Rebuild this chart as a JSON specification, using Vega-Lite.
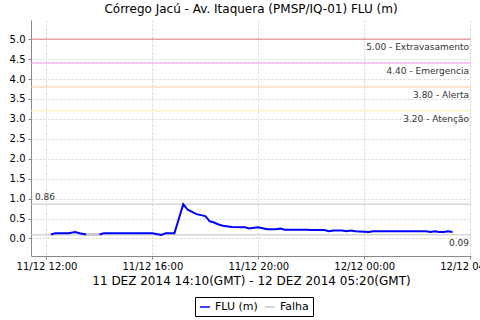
{
  "$schema": "https://vega.github.io/schema/vega-lite/v6.json",
  "width": 440,
  "height": 236,
  "autosize": "none",
  "padding": {"left": 31, "top": 20, "right": 9, "bottom": 64},
  "background": "white",
  "title": {"text": "Córrego Jacú - Av. Itaquera (PMSP/IQ-01) FLU (m)", "font": "DejaVu Sans", "fontSize": 12, "fontWeight": "normal", "color": "#000000", "offset": 4, "anchor": "middle"},
  "config": {
    "view": {"stroke": null},
    "font": "DejaVu Sans",
    "axis": {"labelFont": "DejaVu Sans", "labelFontSize": 10, "labelColor": "#000000", "domainColor": "#888888", "tickColor": "#888888", "tickSize": 3, "gridColor": "#d4d4d4", "gridDash": [2, 2], "gridWidth": 1, "titleFont": "DejaVu Sans", "titleFontWeight": "normal", "titleColor": "#000000"}
  },
  "datasets": {
    "flu": [
      {"hora": "2014-12-11T12:10", "valor": 0.10, "serie": "FLU (m)", "trecho": "a"},
      {"hora": "2014-12-11T12:20", "valor": 0.13, "serie": "FLU (m)", "trecho": "a"},
      {"hora": "2014-12-11T12:50", "valor": 0.13, "serie": "FLU (m)", "trecho": "a"},
      {"hora": "2014-12-11T13:05", "valor": 0.16, "serie": "FLU (m)", "trecho": "a"},
      {"hora": "2014-12-11T13:15", "valor": 0.13, "serie": "FLU (m)", "trecho": "a"},
      {"hora": "2014-12-11T13:30", "valor": 0.10, "serie": "FLU (m)", "trecho": "a"},
      {"hora": "2014-12-11T14:00", "valor": 0.10, "serie": "FLU (m)", "trecho": "b"},
      {"hora": "2014-12-11T14:10", "valor": 0.13, "serie": "FLU (m)", "trecho": "b"},
      {"hora": "2014-12-11T16:00", "valor": 0.13, "serie": "FLU (m)", "trecho": "b"},
      {"hora": "2014-12-11T16:20", "valor": 0.09, "serie": "FLU (m)", "trecho": "b"},
      {"hora": "2014-12-11T16:30", "valor": 0.13, "serie": "FLU (m)", "trecho": "b"},
      {"hora": "2014-12-11T16:50", "valor": 0.13, "serie": "FLU (m)", "trecho": "b"},
      {"hora": "2014-12-11T17:10", "valor": 0.86, "serie": "FLU (m)", "trecho": "b"},
      {"hora": "2014-12-11T17:20", "valor": 0.72, "serie": "FLU (m)", "trecho": "b"},
      {"hora": "2014-12-11T17:40", "valor": 0.61, "serie": "FLU (m)", "trecho": "b"},
      {"hora": "2014-12-11T18:00", "valor": 0.56, "serie": "FLU (m)", "trecho": "b"},
      {"hora": "2014-12-11T18:10", "valor": 0.43, "serie": "FLU (m)", "trecho": "b"},
      {"hora": "2014-12-11T18:20", "valor": 0.40, "serie": "FLU (m)", "trecho": "b"},
      {"hora": "2014-12-11T18:30", "valor": 0.35, "serie": "FLU (m)", "trecho": "b"},
      {"hora": "2014-12-11T18:40", "valor": 0.32, "serie": "FLU (m)", "trecho": "b"},
      {"hora": "2014-12-11T19:00", "valor": 0.29, "serie": "FLU (m)", "trecho": "b"},
      {"hora": "2014-12-11T19:30", "valor": 0.28, "serie": "FLU (m)", "trecho": "b"},
      {"hora": "2014-12-11T19:40", "valor": 0.25, "serie": "FLU (m)", "trecho": "b"},
      {"hora": "2014-12-11T19:50", "valor": 0.27, "serie": "FLU (m)", "trecho": "b"},
      {"hora": "2014-12-11T20:00", "valor": 0.28, "serie": "FLU (m)", "trecho": "b"},
      {"hora": "2014-12-11T20:20", "valor": 0.23, "serie": "FLU (m)", "trecho": "b"},
      {"hora": "2014-12-11T20:40", "valor": 0.23, "serie": "FLU (m)", "trecho": "b"},
      {"hora": "2014-12-11T20:50", "valor": 0.25, "serie": "FLU (m)", "trecho": "b"},
      {"hora": "2014-12-11T21:00", "valor": 0.22, "serie": "FLU (m)", "trecho": "b"},
      {"hora": "2014-12-11T21:50", "valor": 0.22, "serie": "FLU (m)", "trecho": "b"},
      {"hora": "2014-12-11T22:00", "valor": 0.21, "serie": "FLU (m)", "trecho": "b"},
      {"hora": "2014-12-11T22:30", "valor": 0.21, "serie": "FLU (m)", "trecho": "b"},
      {"hora": "2014-12-11T22:40", "valor": 0.18, "serie": "FLU (m)", "trecho": "b"},
      {"hora": "2014-12-11T22:50", "valor": 0.20, "serie": "FLU (m)", "trecho": "b"},
      {"hora": "2014-12-11T23:10", "valor": 0.20, "serie": "FLU (m)", "trecho": "b"},
      {"hora": "2014-12-11T23:20", "valor": 0.18, "serie": "FLU (m)", "trecho": "b"},
      {"hora": "2014-12-11T23:30", "valor": 0.20, "serie": "FLU (m)", "trecho": "b"},
      {"hora": "2014-12-11T23:40", "valor": 0.18, "serie": "FLU (m)", "trecho": "b"},
      {"hora": "2014-12-12T00:10", "valor": 0.16, "serie": "FLU (m)", "trecho": "b"},
      {"hora": "2014-12-12T00:20", "valor": 0.18, "serie": "FLU (m)", "trecho": "b"},
      {"hora": "2014-12-12T02:20", "valor": 0.18, "serie": "FLU (m)", "trecho": "b"},
      {"hora": "2014-12-12T02:30", "valor": 0.16, "serie": "FLU (m)", "trecho": "b"},
      {"hora": "2014-12-12T02:40", "valor": 0.18, "serie": "FLU (m)", "trecho": "b"},
      {"hora": "2014-12-12T02:50", "valor": 0.16, "serie": "FLU (m)", "trecho": "b"},
      {"hora": "2014-12-12T03:00", "valor": 0.16, "serie": "FLU (m)", "trecho": "b"},
      {"hora": "2014-12-12T03:10", "valor": 0.18, "serie": "FLU (m)", "trecho": "b"},
      {"hora": "2014-12-12T03:20", "valor": 0.16, "serie": "FLU (m)", "trecho": "b"}
    ],
    "falha": [
      {"hora": "2014-12-11T13:30", "valor": 0.10, "serie": "Falha", "trecho": "f"},
      {"hora": "2014-12-11T14:00", "valor": 0.10, "serie": "Falha", "trecho": "f"}
    ],
    "cotas": [
      {"valor": 5.0, "tipo": "Extravasamento", "rotulo": "5.00 - Extravasamento"},
      {"valor": 4.4, "tipo": "Emergencia", "rotulo": "4.40 - Emergencia"},
      {"valor": 3.8, "tipo": "Alerta", "rotulo": "3.80 - Alerta"},
      {"valor": 3.2, "tipo": "Atenção", "rotulo": "3.20 - Atenção"}
    ],
    "extremos": [
      {"valor": 0.86, "tipo": "max", "rotulo": "0.86"},
      {"valor": 0.09, "tipo": "min", "rotulo": "0.09"}
    ],
    "maximo": [
      {"valor": 0.86, "rotulo": "0.86"}
    ],
    "minimo": [
      {"valor": 0.09, "rotulo": "0.09"}
    ]
  },
  "encoding": {
    "y": {
      "field": "valor", "type": "quantitative",
      "scale": {"domain": [-0.44, 5.48], "nice": false, "zero": false},
      "axis": {"values": [0, 0.5, 1, 1.5, 2, 2.5, 3, 3.5, 4, 4.5, 5], "format": ".1f", "title": null, "labelPadding": 3, "labelOverlap": false}
    }
  },
  "layer": [
    {
      "data": {"name": "cotas"},
      "mark": {"type": "rule", "strokeWidth": 1},
      "encoding": {
        "stroke": {"field": "tipo", "type": "nominal", "scale": {"domain": ["Extravasamento", "Emergencia", "Alerta", "Atenção"], "range": ["#e07878", "#ee96ee", "#f8c898", "#f8eca8"]}, "legend": null}
      }
    },
    {
      "data": {"name": "extremos"},
      "mark": {"type": "rule", "stroke": "#c4c4c4", "strokeWidth": 1},
      "encoding": {}
    },
    {
      "data": {"name": "falha"},
      "mark": {"type": "line", "strokeWidth": 3},
      "encoding": {
        "x": {"field": "hora", "type": "temporal"},
        "color": {"field": "serie", "type": "nominal"}
      }
    },
    {
      "data": {"name": "flu"},
      "mark": {"type": "line", "strokeWidth": 2},
      "encoding": {
        "x": {
          "field": "hora", "type": "temporal",
          "scale": {"domain": ["2014-12-11T11:25", "2014-12-12T04:02"], "nice": false},
          "axis": {
            "format": "%d/%m %H:%M",
            "labelExpr": "hours(datum.value) % 4 === 0 ? datum.label : ''",
            "gridOpacity": {"condition": {"test": "hours(datum.value) % 4 === 0", "value": 1}, "value": 0},
            "tickOpacity": {"condition": {"test": "hours(datum.value) % 4 === 0", "value": 1}, "value": 0},
            "labelOverlap": false, "labelBound": false, "labelFlush": false, "labelPadding": 2,
            "title": "11 DEZ 2014 14:10(GMT) - 12 DEZ 2014 05:20(GMT)", "titleFontSize": 12, "titlePadding": 4
          }
        },
        "detail": {"field": "trecho", "type": "nominal"},
        "color": {
          "field": "serie", "type": "nominal",
          "scale": {"domain": ["FLU (m)", "Falha"], "range": ["#0000ff", "#c8c8c8"]},
          "legend": {
            "title": null, "orient": "none", "direction": "horizontal", "legendX": 164, "legendY": 277,
            "strokeColor": "#000000", "padding": 4, "fillColor": "#ffffff",
            "labelFontSize": 11, "labelColor": "#000000", "symbolType": "stroke", "columnPadding": 4
          }
        }
      }
    },
    {
      "data": {"name": "cotas"},
      "mark": {"type": "text", "align": "right", "baseline": "middle", "dx": -2, "dy": 8, "fontSize": 9, "color": "#333333", "x": 440},
      "encoding": {
        "text": {"field": "rotulo", "type": "nominal"}
      }
    },
    {
      "data": {"name": "maximo"},
      "mark": {"type": "text", "align": "left", "baseline": "middle", "dx": 4, "dy": -7, "fontSize": 9, "color": "#333333", "x": 0},
      "encoding": {
        "text": {"field": "rotulo", "type": "nominal"}
      }
    },
    {
      "data": {"name": "minimo"},
      "mark": {"type": "text", "align": "right", "baseline": "middle", "dx": -2, "dy": 8, "fontSize": 9, "color": "#333333", "x": 440},
      "encoding": {
        "text": {"field": "rotulo", "type": "nominal"}
      }
    }
  ]
}
